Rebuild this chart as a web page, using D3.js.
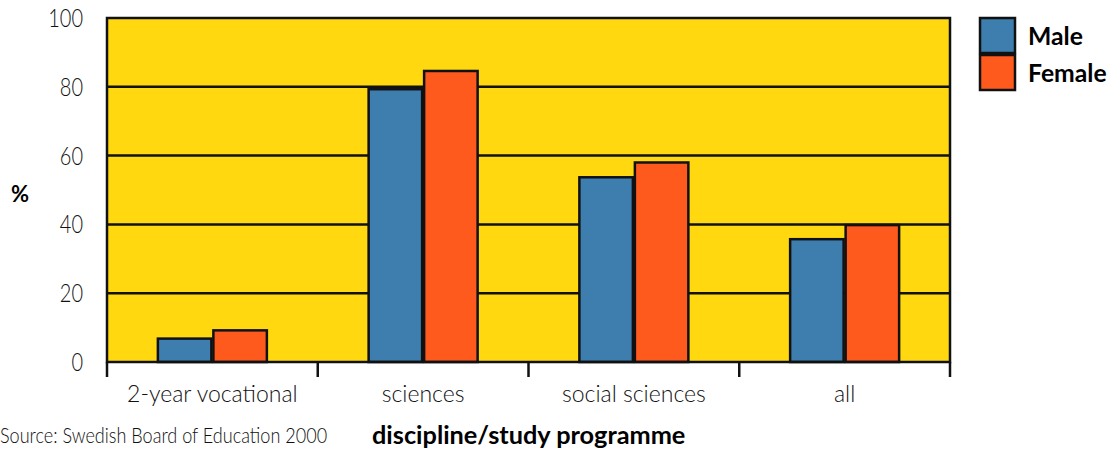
<!DOCTYPE html>
<html>
<head>
<meta charset="utf-8">
<script src="https://cdn.jsdelivr.net/npm/d3@7"></script>
<style>
  html, body { margin: 0; padding: 0; background: #fff; }
  svg text { font-family: Lato, "Liberation Sans", sans-serif; fill: #111; }
  .light { font-weight: 300; }
  .bold { font-weight: 700; fill: #000; }
</style>
</head>
<body>
<svg id="chart" width="1112" height="450"></svg>
<script>
// Share of students (%) by study programme and sex
const categories = ["2-year vocational", "sciences", "social sciences", "all"];
const seriesNames = ["Male", "Female"];
const maleValues = [6.8, 79.3, 53.7, 35.7];
const femaleValues = [9.2, 84.6, 58.0, 39.8];
const yTicks = [0, 20, 40, 60, 80, 100];
const seriesColors = ["#3d7eae", "#ff5a1e"];

const svg = d3.select("#chart");
const margin = { left: 107, right: 162, top: 18, bottom: 88 };
const W = 1112, H = 450;
const plotW = W - margin.left - margin.right;
const plotH = H - margin.top - margin.bottom;

const x = d3.scaleBand().domain(categories).range([0, plotW]);
const xInner = d3.scaleBand().domain(seriesNames).range([0, 111]);
const y = d3.scaleLinear().domain([0, 100]).range([plotH, 0]);

const g = svg.append("g").attr("transform", `translate(${margin.left},${margin.top})`);

// Yellow plot background
g.append("rect")
  .attr("x", 0).attr("y", 0).attr("width", plotW).attr("height", plotH)
  .attr("fill", "#ffd80f");

// Horizontal grid lines
g.selectAll(".grid").data(yTicks.filter(d => d > 0 && d < 100)).join("line")
  .attr("x1", 0).attr("x2", plotW)
  .attr("y1", d => y(d)).attr("y2", d => y(d))
  .attr("stroke", "#111").attr("stroke-width", 2.5);

// Bars
const rows = categories.map((c, i) => ({ cat: c, vals: [maleValues[i], femaleValues[i]] }));
const groups = g.selectAll(".grp").data(rows).join("g")
  .attr("transform", d => `translate(${x(d.cat) + (x.bandwidth() - 111) / 2},0)`);
groups.selectAll("rect").data(d => d.vals.map((v, k) => ({ name: seriesNames[k], v, k }))).join("rect")
  .attr("x", d => xInner(d.name) + 1)
  .attr("width", xInner.bandwidth() - 2)
  .attr("y", d => y(d.v))
  .attr("height", d => y(0) - y(d.v))
  .attr("fill", d => seriesColors[d.k])
  .attr("stroke", "#111").attr("stroke-width", 2.5);

// Plot frame
g.append("rect")
  .attr("x", 0).attr("y", 0).attr("width", plotW).attr("height", plotH)
  .attr("fill", "none").attr("stroke", "#111").attr("stroke-width", 2.5);

// X axis ticks at band boundaries
const xBounds = categories.map(c => x(c)).concat([plotW]);
g.selectAll(".xtick").data(xBounds).join("line")
  .attr("x1", d => d).attr("x2", d => d)
  .attr("y1", plotH).attr("y2", plotH + 15)
  .attr("stroke", "#111").attr("stroke-width", 2.5);

// Category labels
g.selectAll(".xlab").data(categories).join("text")
  .attr("class", "light")
  .attr("transform", d => `translate(${x(d) + x.bandwidth() / 2},${plotH + 40})`)
  .attr("text-anchor", "middle")
  .attr("font-size", 23)
  .text(d => d);

// Y tick labels (compressed horizontally for a narrow look)
g.selectAll(".ylab").data(yTicks).join("text")
  .attr("class", "light")
  .attr("transform", d => `translate(-24,${y(d)}) scale(0.8,1)`)
  .attr("dy", "0.36em")
  .attr("text-anchor", "end")
  .attr("font-size", 25)
  .text(d => d);

// Axis titles and source
svg.append("text").attr("class", "bold").attr("x", 11).attr("y", 202)
  .attr("font-size", 22).text("%");
svg.append("text").attr("class", "bold")
  .attr("transform", "translate(372,444)")
  .attr("font-size", 25.3).text("discipline/study programme");
svg.append("text").attr("class", "light")
  .attr("transform", "translate(0,443) scale(0.86,1)")
  .attr("font-size", 21).text("Source: Swedish Board of Education 2000");

// Legend
const legend = svg.append("g").attr("transform", "translate(980,18)");
seriesNames.forEach((name, k) => {
  legend.append("rect")
    .attr("x", 0).attr("y", k * 37).attr("width", 35).attr("height", 35)
    .attr("fill", seriesColors[k]).attr("stroke", "#111").attr("stroke-width", 2.5);
  legend.append("text").attr("class", "bold")
    .attr("transform", `translate(48,${k * 37 + 18}) scale(1.03,1)`)
    .attr("dy", "0.36em")
    .attr("font-size", 24).text(name);
});
</script>
</body>
</html>
